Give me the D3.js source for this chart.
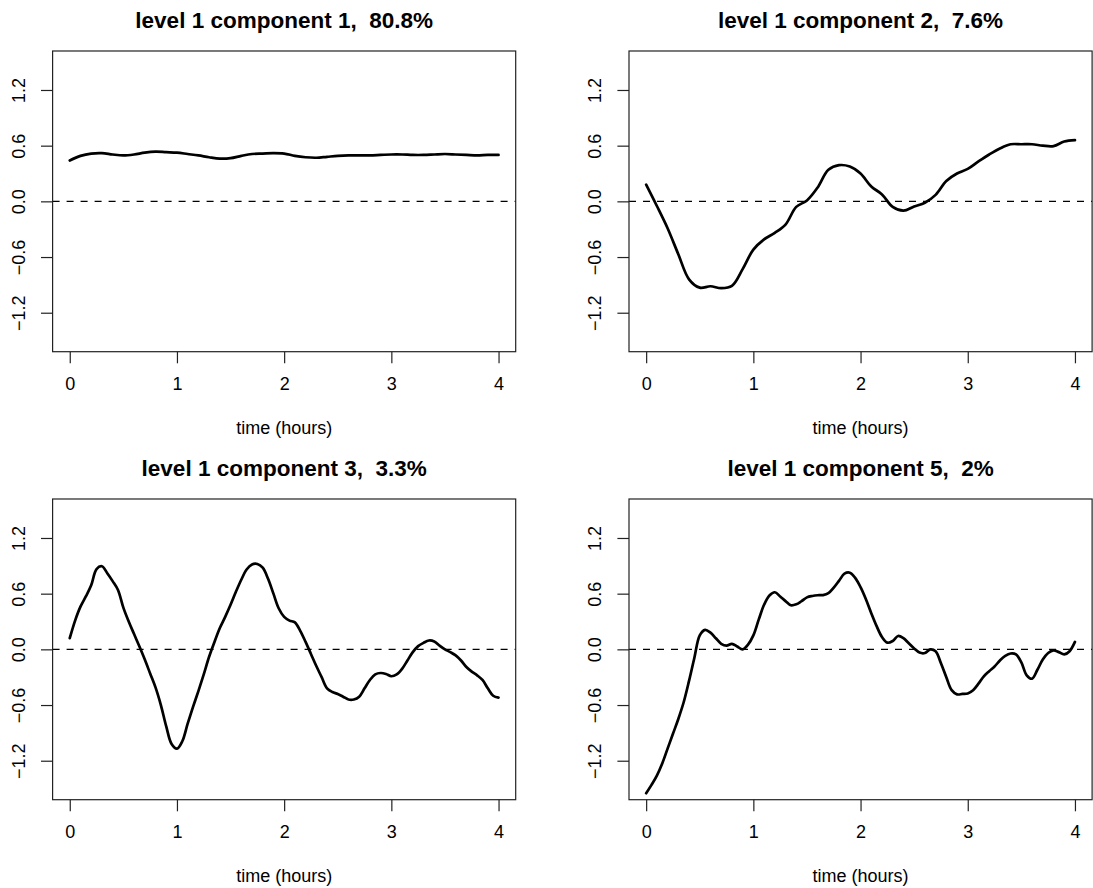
<!DOCTYPE html>
<html>
<head>
<meta charset="utf-8">
<script src="https://cdn.jsdelivr.net/npm/d3@7"></script>
<style>
  body { margin: 0; background: #fff; }
  text { font-family: "Liberation Sans", Arial, Helvetica, sans-serif; fill: #000; }
</style>
</head>
<body>
<div id="chart"></div>
<script>

// sample times (hours)
var times10 = [0, 0.1, 0.2, 0.3, 0.4, 0.5, 0.6, 0.7, 0.8, 0.9,
  1, 1.1, 1.2, 1.3, 1.4, 1.5, 1.6, 1.7, 1.8, 1.9,
  2, 2.1, 2.2, 2.3, 2.4, 2.5, 2.6, 2.7, 2.8, 2.9,
  3, 3.1, 3.2, 3.3, 3.4, 3.5, 3.6, 3.7, 3.8, 3.9, 4];

var times20 = [0, 0.05, 0.1, 0.15, 0.2, 0.25, 0.3, 0.35, 0.4, 0.45,
  0.5, 0.55, 0.6, 0.65, 0.7, 0.75, 0.8, 0.85, 0.9, 0.95,
  1, 1.05, 1.1, 1.15, 1.2, 1.25, 1.3, 1.35, 1.4, 1.45,
  1.5, 1.55, 1.6, 1.65, 1.7, 1.75, 1.8, 1.85, 1.9, 1.95,
  2, 2.05, 2.1, 2.15, 2.2, 2.25, 2.3, 2.35, 2.4, 2.45,
  2.5, 2.55, 2.6, 2.65, 2.7, 2.75, 2.8, 2.85, 2.9, 2.95,
  3, 3.05, 3.1, 3.15, 3.2, 3.25, 3.3, 3.35, 3.4, 3.45,
  3.5, 3.55, 3.6, 3.65, 3.7, 3.75, 3.8, 3.85, 3.9, 3.95, 4];

var comp1 = [0.44, 0.49, 0.515, 0.52, 0.505, 0.495, 0.505, 0.525, 0.535, 0.53,
  0.525, 0.51, 0.495, 0.475, 0.46, 0.465, 0.49, 0.51, 0.515, 0.52,
  0.515, 0.49, 0.475, 0.47, 0.48, 0.49, 0.495, 0.495, 0.495, 0.5,
  0.505, 0.505, 0.5, 0.5, 0.505, 0.51, 0.505, 0.5, 0.495, 0.5, 0.5];

var comp2 = [0.18, -0.05, -0.29, -0.57, -0.84, -0.93, -0.915, -0.935, -0.91, -0.73,
  -0.52, -0.41, -0.34, -0.25, -0.06, 0.01, 0.15, 0.34, 0.39, 0.375,
  0.3, 0.16, 0.075, -0.06, -0.1, -0.055, -0.015, 0.07, 0.22, 0.3,
  0.35, 0.43, 0.505, 0.57, 0.615, 0.615, 0.615, 0.6, 0.595, 0.645, 0.66];

var comp3 = [0.12, 0.31, 0.46, 0.57, 0.69, 0.865, 0.895, 0.82, 0.735, 0.64,
  0.45, 0.3, 0.165, 0.03, -0.11, -0.26, -0.41, -0.6, -0.83, -1.02,
  -1.07, -0.99, -0.8, -0.62, -0.45, -0.27, -0.08, 0.08, 0.23, 0.35,
  0.48, 0.62, 0.75, 0.86, 0.915, 0.92, 0.88, 0.76, 0.6, 0.44,
  0.35, 0.31, 0.29, 0.2, 0.08, -0.05, -0.18, -0.3, -0.42, -0.46,
  -0.48, -0.51, -0.54, -0.54, -0.51, -0.42, -0.33, -0.27, -0.255, -0.265,
  -0.29, -0.27, -0.21, -0.12, -0.03, 0.035, 0.07, 0.095, 0.085, 0.04,
  0.0, -0.03, -0.065, -0.12, -0.19, -0.24, -0.28, -0.33, -0.42, -0.5, -0.52];

var comp5 = [-1.55, -1.46, -1.36, -1.23, -1.07, -0.91, -0.75, -0.57, -0.34, -0.09,
  0.15, 0.21, 0.18, 0.12, 0.06, 0.04, 0.06, 0.03, 0.0, 0.05,
  0.15, 0.32, 0.48, 0.58, 0.615, 0.57, 0.52, 0.475, 0.485, 0.52,
  0.56, 0.575, 0.583, 0.585, 0.605, 0.665, 0.74, 0.815, 0.826, 0.77,
  0.67, 0.54, 0.39, 0.25, 0.133, 0.072, 0.09, 0.144, 0.12, 0.065,
  0.01, -0.035, -0.04, 0.0, -0.02, -0.15, -0.3, -0.44, -0.485, -0.48,
  -0.475, -0.44, -0.37, -0.29, -0.235, -0.185, -0.12, -0.07, -0.045, -0.055,
  -0.14, -0.28, -0.316, -0.22, -0.11, -0.04, -0.012, -0.03, -0.055, -0.02, 0.08];

var titles = ["level 1 component 1,  80.8%", "level 1 component 2,  7.6%",
              "level 1 component 3,  3.3%", "level 1 component 5,  2%"];
var xTicks = [0, 1, 2, 3, 4];
var yTicks = [-1.2, -0.6, 0, 0.6, 1.2];
var xLabel = "time (hours)";

var W = 1093, H = 888;
var box_w = 463.1, box_h = 300.7;
var tick_len = 11.6;

var svg = d3.select("#chart").append("svg")
  .attr("width", W)
  .attr("height", H);

var x = d3.scaleLinear().domain([-0.16, 4.16]).range([0, box_w]);
var y = d3.scaleLinear().domain([-1.62, 1.62]).range([box_h, 0]);

var line = d3.line()
  .x(function(d){ return x(d[0]); })
  .y(function(d){ return y(d[1]); })
  .curve(d3.curveCatmullRom.alpha(0.5));

function drawPanel(ox, oy, title, tt, vals) {
  var g = svg.append("g").attr("transform", "translate(" + ox + "," + oy + ")");

  // dashed zero line
  g.append("line")
    .attr("x1", 0).attr("x2", box_w)
    .attr("y1", y(0)).attr("y2", y(0))
    .attr("stroke", "#000")
    .attr("stroke-width", 1.3)
    .attr("stroke-dasharray", "7,7");

  g.append("path")
    .datum(tt.map(function(t, i){ return [t, vals[i]]; }))
    .attr("fill", "none")
    .attr("stroke", "#000")
    .attr("stroke-width", 2.7)
    .attr("stroke-linejoin", "round")
    .attr("stroke-linecap", "round")
    .attr("d", line);

  // box
  g.append("rect")
    .attr("width", box_w).attr("height", box_h)
    .attr("fill", "none")
    .attr("stroke", "#222")
    .attr("stroke-width", 1.2);

  var gx = g.append("g")
    .attr("transform", "translate(0," + box_h + ")")
    .call(d3.axisBottom(x).tickValues(xTicks).tickSize(tick_len).tickFormat(d3.format("d")));
  gx.select(".domain").remove();
  gx.selectAll("line").attr("stroke", "#222").attr("stroke-width", 1.2);
  gx.selectAll("text")
    .attr("y", 38.3).attr("dy", null)
    .style("font-size", "18px")
    .style("font-family", "Liberation Sans, Arial, Helvetica, sans-serif");

  var gy = g.append("g")
    .call(d3.axisLeft(y).tickValues(yTicks).tickSize(tick_len).tickFormat(d3.format(".1f")));
  gy.select(".domain").remove();
  gy.selectAll("line").attr("stroke", "#222").attr("stroke-width", 1.2);
  gy.selectAll("text")
    .attr("x", 0).attr("y", -27.6).attr("dy", null)
    .attr("transform", "rotate(-90)")
    .attr("text-anchor", "middle")
    .style("font-size", "18px")
    .style("font-family", "Liberation Sans, Arial, Helvetica, sans-serif");

  g.append("text")
    .attr("x", box_w / 2).attr("y", -23)
    .attr("text-anchor", "middle")
    .style("font-size", "22.5px")
    .style("font-weight", "bold")
    .style("white-space", "pre")
    .text(title);

  g.append("text")
    .attr("x", box_w / 2).attr("y", box_h + 82.5)
    .attr("text-anchor", "middle")
    .style("font-size", "18px")
    .text(xLabel);
}

drawPanel(52.6, 51, titles[0], times10, comp1);
drawPanel(629, 51, titles[1], times10, comp2);
drawPanel(52.6, 499, titles[2], times20, comp3);
drawPanel(629, 499, titles[3], times20, comp5);

</script>
</body>
</html>
